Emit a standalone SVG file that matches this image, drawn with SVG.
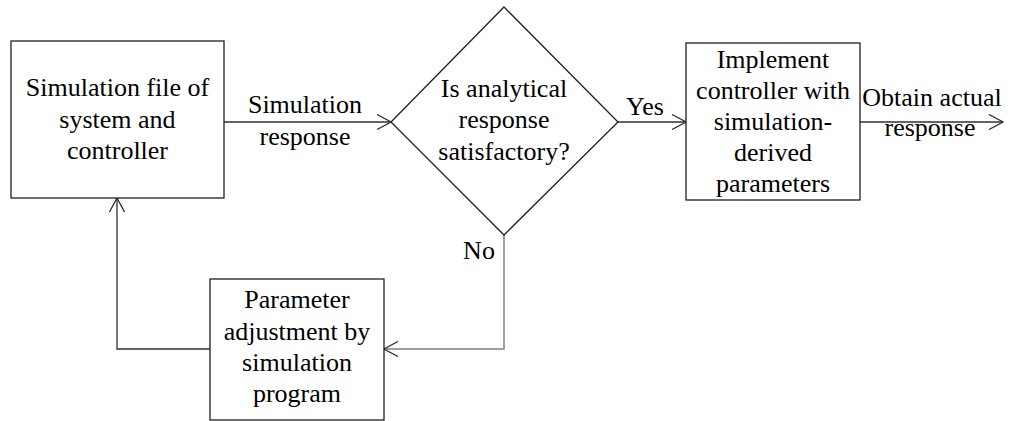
<svg xmlns="http://www.w3.org/2000/svg" width="1011" height="421" viewBox="0 0 1011 421">
  <style>
    .box { fill: #ffffff; stroke: #202020; stroke-width: 1.3; }
    .lbl { font-family: 'Liberation Serif', 'Times New Roman', Tinos, 'Noto Serif', 'DejaVu Serif', serif; font-size: 26px; fill: #000000; text-anchor: middle; }
    .wire { fill: none; stroke: #303030; stroke-width: 1.3; }
    .wire-gray { fill: none; stroke: #808080; stroke-width: 1.5; }
  </style>
  <defs>
    <marker id="open-arrow" viewBox="0 0 16 16" refX="15" refY="8" markerWidth="16" markerHeight="16" markerUnits="userSpaceOnUse" orient="auto">
      <path d="M1,0.5 L15,8 L1,15.5" fill="none" stroke="#303030" stroke-width="1.3"/>
    </marker>
  </defs>

  <rect width="1011" height="421" fill="#ffffff"/>

  <!-- connectors -->
  <g id="connectors">
    <line class="wire" x1="224" y1="122" x2="391" y2="122" marker-end="url(#open-arrow)"/>
    <line class="wire" x1="618" y1="122" x2="686" y2="122" marker-end="url(#open-arrow)"/>
    <line class="wire" x1="860" y1="122" x2="1003" y2="122" marker-end="url(#open-arrow)"/>
    <polyline class="wire-gray" points="504,235 504,349 384,349" marker-end="url(#open-arrow)"/>
    <polyline class="wire" points="210,349 117,349 117,198" marker-end="url(#open-arrow)"/>
    <text class="lbl" x="305" y="113">Simulation</text>
    <text class="lbl" x="305" y="145">response</text>
    <text class="lbl" x="645" y="115">Yes</text>
    <text class="lbl" x="479" y="259">No</text>
    <text class="lbl" x="932" y="106">Obtain actual</text>
    <text class="lbl" x="930" y="136">response</text>
  </g>

  <!-- simulation file node -->
  <g id="sim-file">
    <rect class="box" x="11" y="41" width="213" height="157"/>
    <text class="lbl" x="117.5" y="96">Simulation file of</text>
    <text class="lbl" x="117.5" y="128">system and</text>
    <text class="lbl" x="117.5" y="159">controller</text>
  </g>

  <!-- decision node -->
  <g id="decision">
    <polygon class="box" points="504,7 618,122 504,235 391,122"/>
    <text class="lbl" x="504" y="97">Is analytical</text>
    <text class="lbl" x="504" y="128">response</text>
    <text class="lbl" x="504" y="160">satisfactory?</text>
  </g>

  <!-- implementation node -->
  <g id="implement">
    <rect class="box" x="686" y="43" width="174" height="157"/>
    <text class="lbl" x="773" y="68">Implement</text>
    <text class="lbl" x="773" y="99">controller with</text>
    <text class="lbl" x="773" y="130">simulation-</text>
    <text class="lbl" x="773" y="161">derived</text>
    <text class="lbl" x="773" y="192">parameters</text>
  </g>

  <!-- parameter adjustment node -->
  <g id="adjust">
    <rect class="box" x="210" y="279" width="174" height="141"/>
    <text class="lbl" x="297" y="308">Parameter</text>
    <text class="lbl" x="297" y="340">adjustment by</text>
    <text class="lbl" x="297" y="371">simulation</text>
    <text class="lbl" x="297" y="402">program</text>
  </g>
</svg>
